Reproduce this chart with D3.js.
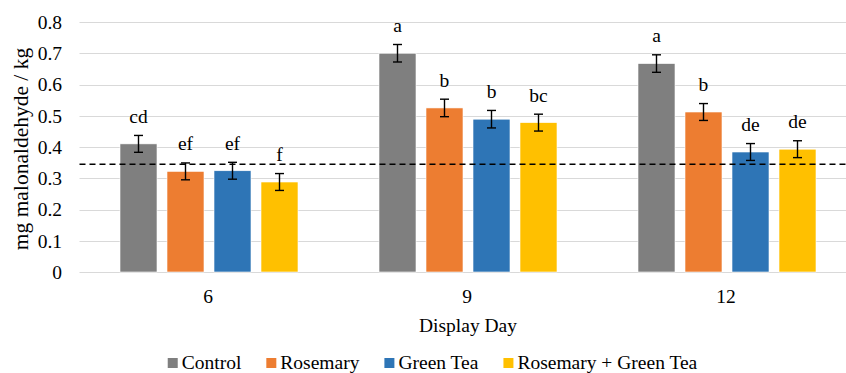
<!DOCTYPE html>
<html><head><meta charset="utf-8"><script src="https://cdn.jsdelivr.net/npm/d3@7"></script></head>
<body style="margin:0;background:#fff">
<svg id="chart" width="846" height="373" font-family="Times New Roman" style="display:block"></svg>
<script>
// ---- data ----
const days = ["6", "9", "12"];
const seriesNames = ["Control", "Rosemary", "Green Tea", "Rosemary + Green Tea"];
const controlValues = [0.410, 0.700, 0.667];
const rosemaryValues = [0.322, 0.525, 0.512];
const greenTeaValues = [0.324, 0.489, 0.384];
const comboValues = [0.288, 0.478, 0.393];
const controlErrors = [0.027, 0.028, 0.028];
const rosemaryErrors = [0.027, 0.028, 0.027];
const greenTeaErrors = [0.027, 0.028, 0.027];
const comboErrors = [0.027, 0.027, 0.027];
const controlLetters = ["cd", "a", "a"];
const rosemaryLetters = ["ef", "b", "b"];
const greenTeaLetters = ["ef", "b", "de"];
const comboLetters = ["f", "bc", "de"];
const yTicks = [0, 0.1, 0.2, 0.3, 0.4, 0.5, 0.6, 0.7, 0.8];
const thresholdValue = 0.345;
const seriesColors = ["#7f7f7f", "#ed7d31", "#2e75b6", "#ffc000"];

const valuesBySeries = [controlValues, rosemaryValues, greenTeaValues, comboValues];
const errorsBySeries = [controlErrors, rosemaryErrors, greenTeaErrors, comboErrors];
const lettersBySeries = [controlLetters, rosemaryLetters, greenTeaLetters, comboLetters];

const rows = [];
days.forEach((d, i) => {
  seriesNames.forEach((s, j) => {
    rows.push({ day: d, series: s, value: valuesBySeries[j][i], err: errorsBySeries[j][i], letter: lettersBySeries[j][i] });
  });
});

// ---- layout ----
const svg = d3.select("#chart");
const plotLeft = 79.5, plotRight = 846, bandRight = 856.5;
const y = d3.scaleLinear().domain([0, 0.8]).range([272, 22]);
const x0 = d3.scaleBand().domain(days).range([plotLeft, bandRight]).paddingInner(0).paddingOuter(0);
const x1 = d3.scaleBand().domain(seriesNames).range([0, x0.bandwidth()]).paddingInner(0.2128).paddingOuter(0.8617);
const color = d3.scaleOrdinal().domain(seriesNames).range(seriesColors);
const FS = 19.5;

function txt(sel, size) {
  return sel.attr("style", `font-family: 'Times New Roman', 'Liberation Serif', Tinos, serif; font-size: ${size || FS}px`).attr("fill", "#000");
}

// gridlines
svg.append("g").selectAll("line").data(yTicks).join("line")
  .attr("x1", plotLeft).attr("x2", plotRight)
  .attr("y1", d => Math.round(y(d)) + 0.5).attr("y2", d => Math.round(y(d)) + 0.5)
  .attr("stroke", "#d9d9d9").attr("stroke-width", 1.2);

// y tick labels
txt(svg.append("g").selectAll("text").data(yTicks).join("text"))
  .attr("x", 62).attr("y", d => y(d)).attr("dy", "0.35em")
  .attr("text-anchor", "end")
  .text(d => d3.format(".1~f")(d));

// y title
txt(svg.append("text"), 21.5)
  .attr("transform", `translate(28,${(y(0) + y(0.8)) / 2 + 2}) rotate(-90)`)
  .attr("text-anchor", "middle")
  .text("mg malonaldehyde / kg");

// bars
svg.append("g").selectAll("rect").data(rows).join("rect")
  .attr("x", d => x0(d.day) + x1(d.series))
  .attr("y", d => y(d.value))
  .attr("width", x1.bandwidth())
  .attr("height", d => y(0) - y(d.value))
  .attr("fill", d => color(d.series))
  .attr("stroke", "#ffffff").attr("stroke-width", 0.6);

// threshold dashed line
svg.append("line")
  .attr("x1", plotLeft).attr("x2", plotRight)
  .attr("y1", y(thresholdValue)).attr("y2", y(thresholdValue))
  .attr("stroke", "#000").attr("stroke-width", 1.5).attr("stroke-dasharray", "6,4");

// error bars
const eb = svg.append("g").selectAll("g").data(rows).join("g")
  .attr("transform", d => `translate(${x0(d.day) + x1(d.series) + x1.bandwidth() / 2},0)`);
eb.append("line").attr("x1", 0).attr("x2", 0)
  .attr("y1", d => y(d.value + d.err)).attr("y2", d => y(d.value - d.err))
  .attr("stroke", "#000").attr("stroke-width", 1.4);
eb.append("line").attr("x1", -4.5).attr("x2", 4.5)
  .attr("y1", d => y(d.value + d.err)).attr("y2", d => y(d.value + d.err))
  .attr("stroke", "#000").attr("stroke-width", 1.4);
eb.append("line").attr("x1", -4.5).attr("x2", 4.5)
  .attr("y1", d => y(d.value - d.err)).attr("y2", d => y(d.value - d.err))
  .attr("stroke", "#000").attr("stroke-width", 1.4);
txt(eb.append("text"))
  .attr("x", 0).attr("y", d => y(d.value + d.err) - 12.5)
  .attr("text-anchor", "middle")
  .text(d => d.letter);

// x tick labels
txt(svg.append("g").selectAll("text").data(days).join("text"))
  .attr("x", d => x0(d) + x0.bandwidth() / 2 - 1).attr("y", 303)
  .attr("text-anchor", "middle")
  .text(d => d);

// x title
txt(svg.append("text"))
  .attr("x", 468).attr("y", 332)
  .attr("text-anchor", "middle")
  .text("Display Day");

// legend
const items = svg.append("g").selectAll("g").data(seriesNames).join("g");
items.append("rect").attr("x", 0).attr("y", 358).attr("width", 10).attr("height", 10)
  .attr("fill", d => color(d));
txt(items.append("text")).attr("x", 14).attr("y", 369).text(d => d);
let cx = 0;
const offsets = [];
items.each(function () {
  offsets.push(cx);
  const w = d3.select(this).select("text").node().getComputedTextLength();
  cx += 14 + w + 25;
});
const startX = 432.5 - (cx - 25) / 2;
items.attr("transform", (d, i) => `translate(${startX + offsets[i]},0)`);
</script>
</body></html>
